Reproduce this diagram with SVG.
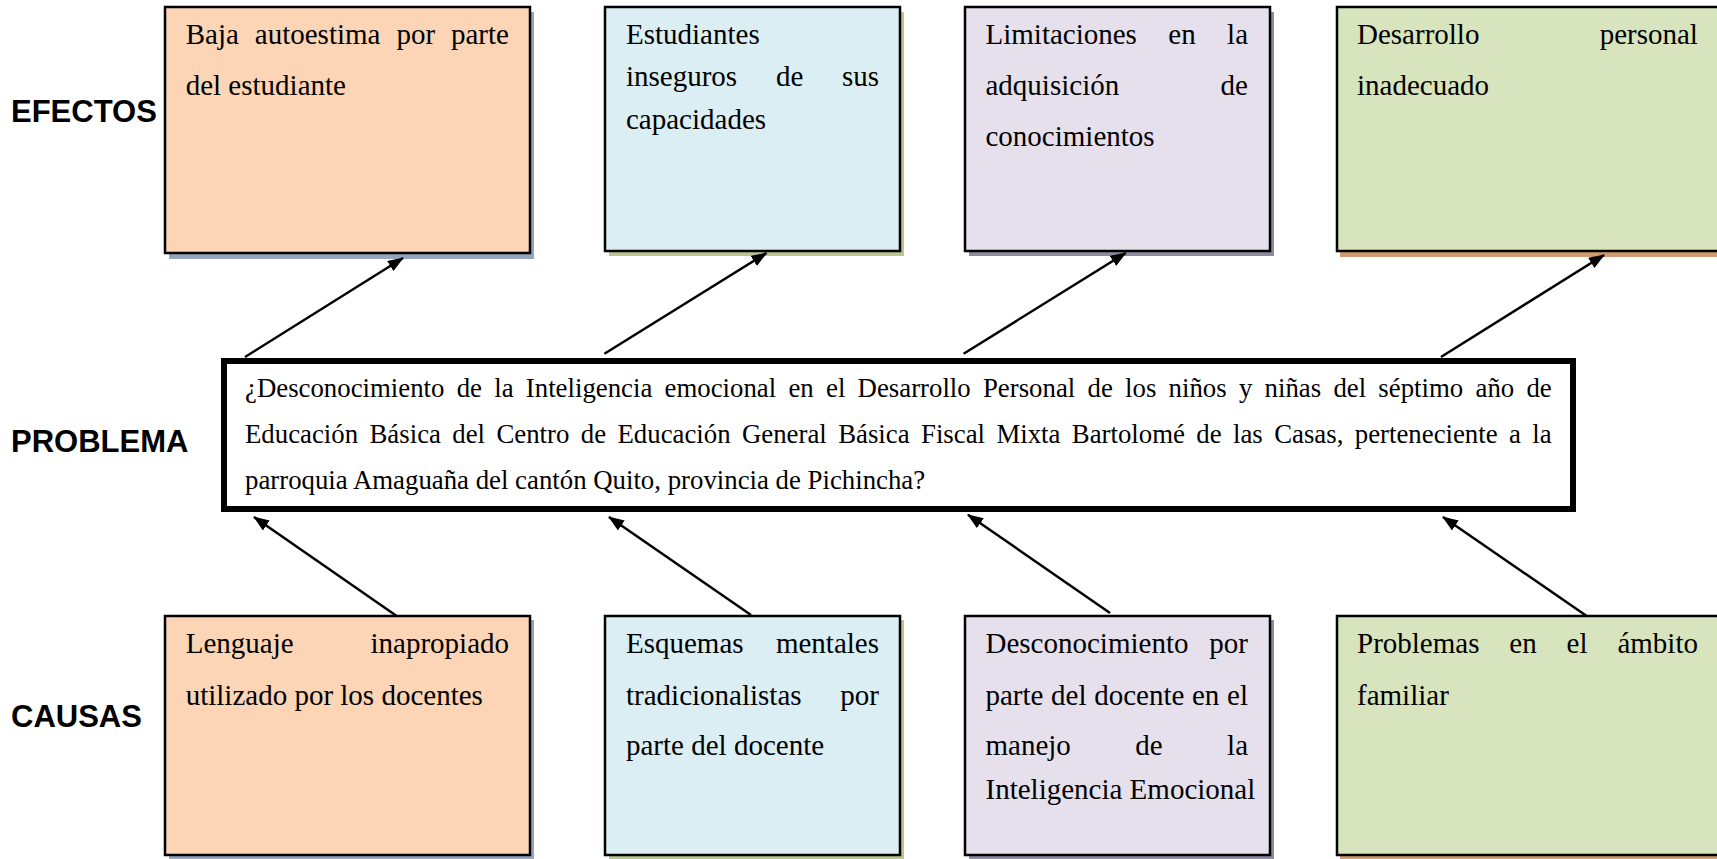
<svg xmlns="http://www.w3.org/2000/svg" width="1717" height="859" viewBox="0 0 1717 859">
<style>
.lbl{font-family:"Liberation Sans",Arial,sans-serif;font-weight:bold;font-size:31px;fill:#000}
.bt{font-family:"Liberation Serif","Times New Roman",serif;font-size:29px;fill:#000}
.pt{font-family:"Liberation Serif","Times New Roman",serif;font-size:26.8px;fill:#000}
.box{stroke:#000;stroke-width:2.5}
.peach{fill:#FBD5B5}.blue{fill:#DAEEF3}.lav{fill:#E5E0EC}.green{fill:#D7E4BD}
.sh1{fill:#95A5BD}.sh2{fill:#B9C690}.sh3{fill:#8E8AA0}.sh4{fill:#D09A72}
.con{stroke:#000;stroke-width:2.5;fill:none}
</style>
<defs>
<marker id="ah" viewBox="0 0 16 12" markerWidth="16" markerHeight="12" refX="15" refY="6" orient="auto" markerUnits="userSpaceOnUse">
<path d="M0,0 L16,6 L0,12 z" fill="#000"/>
</marker>
</defs>
<rect width="1717" height="859" fill="#fff"/>

<text class="lbl" x="11" y="122">EFECTOS</text>
<text class="lbl" x="11" y="452">PROBLEMA</text>
<text class="lbl" x="11" y="727">CAUSAS</text>

<g id="efecto1">
<rect class="sh1" x="169" y="12" width="365" height="247"/>
<rect class="box peach" x="165" y="7" width="365" height="246"/>
<text class="bt" y="44"><tspan x="185.7">Baja</tspan><tspan x="254.8">autoestima</tspan><tspan x="396.4">por</tspan><tspan x="451">parte</tspan></text>
<text class="bt" x="185.7" y="95">del estudiante</text>
</g>

<g id="efecto2">
<rect class="sh2" x="609" y="12" width="295" height="244"/>
<rect class="box blue" x="605" y="7" width="295" height="244"/>
<text class="bt" x="626" y="44">Estudiantes</text>
<text class="bt" y="86"><tspan x="626">inseguros</tspan><tspan x="775.9">de</tspan><tspan x="841.9">sus</tspan></text>
<text class="bt" x="626" y="128.5">capacidades</text>
</g>

<g id="efecto3">
<rect class="sh3" x="969" y="12" width="305" height="244"/>
<rect class="box lav" x="965" y="7" width="305" height="244"/>
<text class="bt" y="44"><tspan x="985.5">Limitaciones</tspan><tspan x="1168.3">en</tspan><tspan x="1227.1">la</tspan></text>
<text class="bt" y="94.5"><tspan x="985.5">adquisición</tspan><tspan x="1220.6">de</tspan></text>
<text class="bt" x="985.5" y="146">conocimientos</text>
</g>

<g id="efecto4">
<rect class="sh4" x="1340" y="12" width="420" height="245"/>
<rect class="box green" x="1337" y="7" width="420" height="244"/>
<text class="bt" y="44"><tspan x="1357">Desarrollo</tspan><tspan x="1599.7">personal</tspan></text>
<text class="bt" x="1357" y="95">inadecuado</text>
</g>

<g id="problema">
<rect x="224" y="361" width="1349" height="148" fill="#fff" stroke="#000" stroke-width="6"/>
<text class="pt" x="245" y="397" word-spacing="5.56">¿Desconocimiento de la Inteligencia emocional en el Desarrollo Personal de los niños y niñas del séptimo año de</text>
<text class="pt" x="245" y="443" word-spacing="4.7">Educación Básica del Centro de Educación General Básica Fiscal Mixta Bartolomé de las Casas, perteneciente a la</text>
<text class="pt" x="245" y="489">parroquia Amaguaña del cantón Quito, provincia de Pichincha?</text>
</g>

<g id="causa1">
<rect class="sh1" x="169" y="620" width="365" height="240"/>
<rect class="box peach" x="165" y="616" width="365" height="239"/>
<text class="bt" y="653"><tspan x="185.7">Lenguaje</tspan><tspan x="370.5">inapropiado</tspan></text>
<text class="bt" x="185.7" y="704.5">utilizado por los docentes</text>
</g>

<g id="causa2">
<rect class="sh2" x="609" y="620" width="295" height="240"/>
<rect class="box blue" x="605" y="616" width="295" height="239"/>
<text class="bt" y="653"><tspan x="626">Esquemas</tspan><tspan x="775.9">mentales</tspan></text>
<text class="bt" y="704.5"><tspan x="626">tradicionalistas</tspan><tspan x="840.3">por</tspan></text>
<text class="bt" x="626" y="755">parte del docente</text>
</g>

<g id="causa3">
<rect class="sh3" x="969" y="620" width="305" height="240"/>
<rect class="box lav" x="965" y="616" width="305" height="239"/>
<text class="bt" y="653"><tspan x="985.5">Desconocimiento</tspan><tspan x="1209.3">por</tspan></text>
<text class="bt" y="704.5"><tspan x="985.5">parte</tspan><tspan x="1051.1">del</tspan><tspan x="1094.2">docente</tspan><tspan x="1192">en</tspan><tspan x="1227.1">el</tspan></text>
<text class="bt" y="755"><tspan x="985.5">manejo</tspan><tspan x="1135.3">de</tspan><tspan x="1227.1">la</tspan></text>
<text class="bt" x="985.5" y="798.6">Inteligencia Emocional</text>
</g>

<g id="causa4">
<rect class="sh4" x="1340" y="620" width="420" height="240"/>
<rect class="box green" x="1337" y="616" width="420" height="239"/>
<text class="bt" y="653"><tspan x="1357">Problemas</tspan><tspan x="1509.3">en</tspan><tspan x="1566.6">el</tspan><tspan x="1617.4">ámbito</tspan></text>
<text class="bt" x="1357" y="704.5">familiar</text>
</g>

<g id="connectors">
<line class="con" x1="245" y1="357" x2="403" y2="258" marker-end="url(#ah)"/>
<line class="con" x1="604.4" y1="353.7" x2="766.5" y2="253" marker-end="url(#ah)"/>
<line class="con" x1="963.6" y1="353.7" x2="1125.7" y2="253" marker-end="url(#ah)"/>
<line class="con" x1="1441" y1="357" x2="1604" y2="255" marker-end="url(#ah)"/>
<line class="con" x1="396.7" y1="616" x2="254" y2="517" marker-end="url(#ah)"/>
<line class="con" x1="751" y1="615" x2="609" y2="517" marker-end="url(#ah)"/>
<line class="con" x1="1110" y1="613" x2="968" y2="514.7" marker-end="url(#ah)"/>
<line class="con" x1="1586.7" y1="616" x2="1443" y2="517" marker-end="url(#ah)"/>
</g>
</svg>
